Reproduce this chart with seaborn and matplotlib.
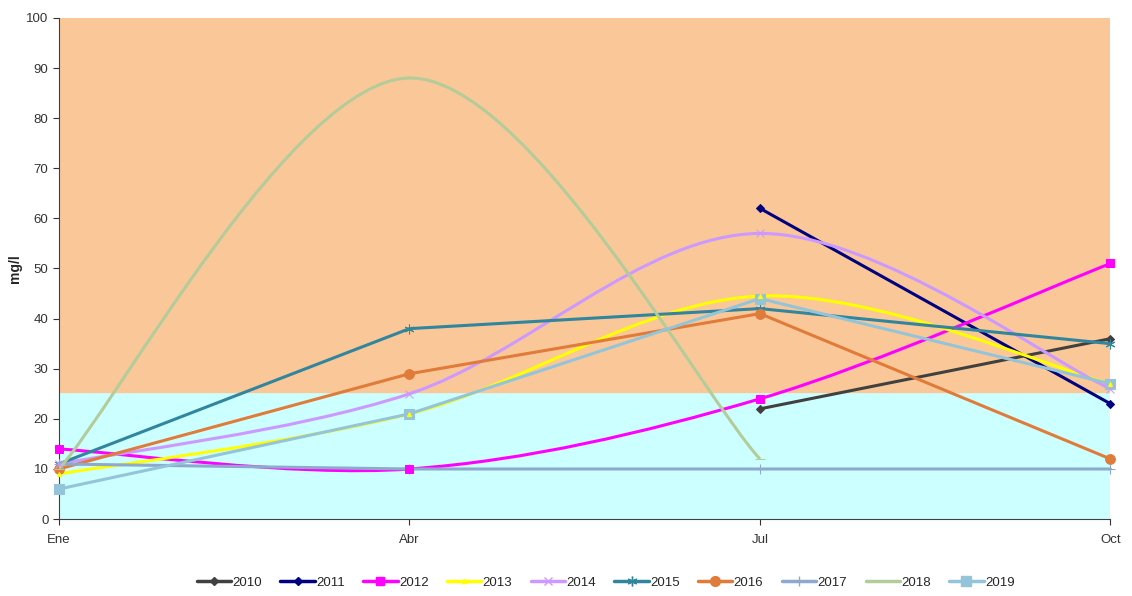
import numpy as np
import pandas as pd
import matplotlib
matplotlib.use('Agg')
import matplotlib.pyplot as plt
from matplotlib.path import Path
from matplotlib.patches import PathPatch
from matplotlib.lines import Line2D
import seaborn as sns

# Data
months = ['Ene', 'Abr', 'Jul', 'Oct']
years = ['2010', '2011', '2012', '2013', '2014', '2015', '2016', '2017', '2018', '2019']
v2010 = [np.nan, np.nan, 22, 36]
v2011 = [np.nan, np.nan, 62, 23]
v2012 = [14, 10, 24, 51]
v2013 = [9, 21, 44.5, 27]
v2014 = [11, 25, 57, 26]
v2015 = [11, 38, 42, 35]
v2016 = [10, 29, 41, 12]
v2017 = [11, 10, 10, 10]
v2018 = [10, 88, 12, np.nan]
v2019 = [6, 21, 44, 27]
values = [v2010, v2011, v2012, v2013, v2014, v2015, v2016, v2017, v2018, v2019]

colors = ['#404040', '#000080', '#FF00FF', '#FFFF00', '#CC99FF',
          '#31859C', '#E07B39', '#8EA9CC', '#B3CC99', '#93C4D9']
markers = ['D', 'D', 's', '^', 'x', (6, 2, 0), 'o', '+', '_', 's']
msizes = [4, 4, 6, 3, 6, 7, 7, 7, 7, 7]
smooth = ['2012', '2013', '2014', '2018']

sns.set_style('white')
plt.rcParams['font.family'] = ['Liberation Sans', 'DejaVu Sans']

fig = plt.figure(figsize=(11.32, 5.96), dpi=100)
ax = fig.add_axes([0.052, 0.129, 0.929, 0.841])

# background bands
ax.axhspan(0, 25.3, color='#CCFFFF', zorder=0)
ax.axhspan(25.3, 100, color='#FAC898', zorder=0)


def bezier_path(xs, ys):
    # Excel-style smoothed line (cubic Bezier through points)
    pts = [(x, y) for x, y in zip(xs, ys) if not np.isnan(y)]
    verts = [pts[0]]
    codes = [Path.MOVETO]
    n = len(pts)
    for i in range(n - 1):
        p0 = np.array(pts[max(i - 1, 0)])
        p1 = np.array(pts[i])
        p2 = np.array(pts[i + 1])
        p3 = np.array(pts[min(i + 2, n - 1)])
        c1 = p1 + (p2 - p0) / 6
        c2 = p2 - (p3 - p1) / 6
        verts += [tuple(c1), tuple(c2), tuple(p2)]
        codes += [Path.CURVE4] * 3
    return Path(verts, codes)


x = np.arange(len(months))
handles = []
for yr, vals, c, m, ms in zip(years, values, colors, markers, msizes):
    df = pd.DataFrame({'x': x, 'y': vals}).dropna()
    if yr in smooth:
        ax.add_patch(PathPatch(bezier_path(x, vals), fill=False, edgecolor=c,
                               lw=2.2, zorder=3))
        sns.lineplot(data=df, x='x', y='y', ax=ax, color=c, marker=m,
                     markersize=ms, markeredgecolor=c, linestyle='', lw=0,
                     zorder=4, clip_on=False)
    else:
        sns.lineplot(data=df, x='x', y='y', ax=ax, color=c, marker=m,
                     markersize=ms, markeredgecolor=c, lw=2.2, zorder=3,
                     clip_on=False)
    handles.append(Line2D([], [], color=c, marker=m, markersize=ms,
                          markeredgecolor=c, lw=2.5, label=yr))

ax.set_xlim(0, 3)
ax.set_ylim(0, 100)
ax.set_xticks(x)
ax.set_xticklabels(months)
ax.set_yticks(range(0, 101, 10))
ax.set_xlabel('')
ax.set_ylabel('mg/l', fontsize=10, fontweight='bold', labelpad=3)
ax.tick_params(axis='both', labelsize=9.5, colors='#333333', direction='out',
               length=4, width=0.8, bottom=True, left=True)
ax.tick_params(axis='x', pad=7)
for s in ['top', 'right']:
    ax.spines[s].set_visible(False)
for s in ['left', 'bottom']:
    ax.spines[s].set_color('#404040')
    ax.spines[s].set_linewidth(0.8)

if ax.get_legend():
    ax.get_legend().remove()
fig.legend(handles=handles, loc='center', bbox_to_anchor=(0.535, 0.022),
           ncol=10, frameon=False, fontsize=9.5, handlelength=2.6,
           handletextpad=0.1, columnspacing=1.4)

fig.savefig('out.png', dpi=100)
